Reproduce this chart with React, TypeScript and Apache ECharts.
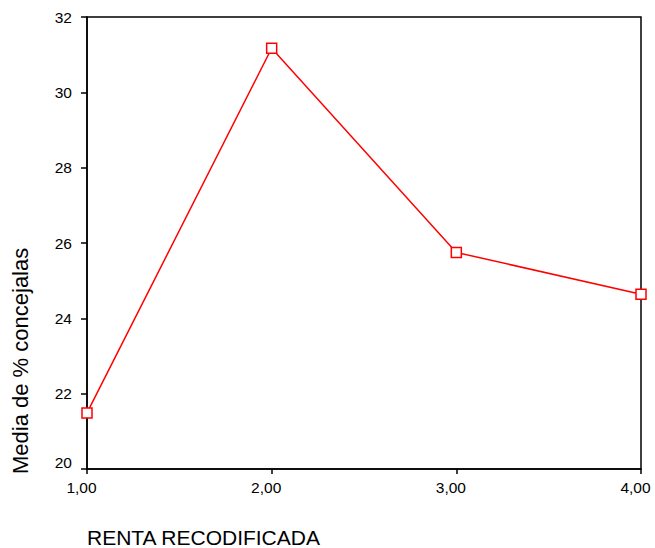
import React, { useEffect, useRef } from "react";
import * as echarts from "echarts";

const xValues = [1, 2, 3, 4];
const meanValues = [21.49, 31.17, 25.75, 24.64];
const yTicks = { min: 20, max: 32, interval: 2 };
const xTitle = "RENTA RECODIFICADA";
const yTitle = "Media de % concejalas";

export default function App() {
  const ref = useRef<HTMLDivElement>(null);
  useEffect(() => {
    if (!ref.current) return;
    const chart = echarts.init(ref.current, null, { renderer: "svg" });
    const font = "Liberation Sans, Arial, sans-serif";
    chart.setOption({
      animation: false,
      backgroundColor: "#ffffff",
      grid: {
        left: 87,
        right: 14,
        top: 17,
        bottom: 79,
        outerBoundsMode: "none",
        containLabel: false,
        show: true,
        borderColor: "#000",
        borderWidth: 1.5,
        backgroundColor: "transparent",
      },
      xAxis: {
        type: "value",
        min: 1,
        max: 4,
        interval: 1,
        axisLine: { show: true, lineStyle: { color: "#000", width: 1.5 } },
        axisTick: { show: true, length: 5, lineStyle: { color: "#000", width: 1.5 } },
        splitLine: { show: false },
        axisLabel: {
          color: "#000",
          fontSize: 15.5,
          fontFamily: font,
          margin: 10,
          padding: [0, 11, 0, 0],
          formatter: (v: number) => v.toFixed(2).replace(".", ","),
        },
      },
      yAxis: {
        type: "value",
        min: yTicks.min,
        max: yTicks.max,
        interval: yTicks.interval,
        axisLine: { show: true, lineStyle: { color: "#000", width: 1.5 } },
        axisTick: { show: true, length: 6, lineStyle: { color: "#000", width: 1.5 } },
        splitLine: { show: false },
        axisLabel: {
          color: "#000",
          fontSize: 15.5,
          fontFamily: font,
          margin: 15,
          formatter: (v: number) => (v === yTicks.min ? "{low|" + v + "}" : String(v)),
          rich: { low: { fontSize: 15.5, fontFamily: font, color: "#000", padding: [0, 0, 14, 0] } },
        },
      },
      graphic: [
        {
          type: "text",
          left: 87,
          top: 527,
          style: { text: xTitle, fontSize: 21, fontFamily: font, fill: "#000" },
        },
        {
          type: "text",
          x: 9,
          y: 474,
          rotation: Math.PI / 2,
          style: {
            text: yTitle,
            fontSize: 22,
            fontFamily: font,
            fill: "#000",
            align: "left",
            verticalAlign: "top",
          },
        },
      ],
      series: [
        {
          type: "line",
          data: xValues.map((x, i) => [x, meanValues[i]]),
          lineStyle: { color: "#ff0000", width: 1.5 },
          itemStyle: { color: "#fff", borderColor: "#ff0000", borderWidth: 1.5 },
          symbol: "rect",
          symbolSize: 10,
          showSymbol: true,
          clip: false,
        },
      ],
    });
    return () => chart.dispose();
  }, []);
  return <div ref={ref} style={{ width: 655, height: 548, position: "absolute", left: 0, top: 0 }} />;
}
